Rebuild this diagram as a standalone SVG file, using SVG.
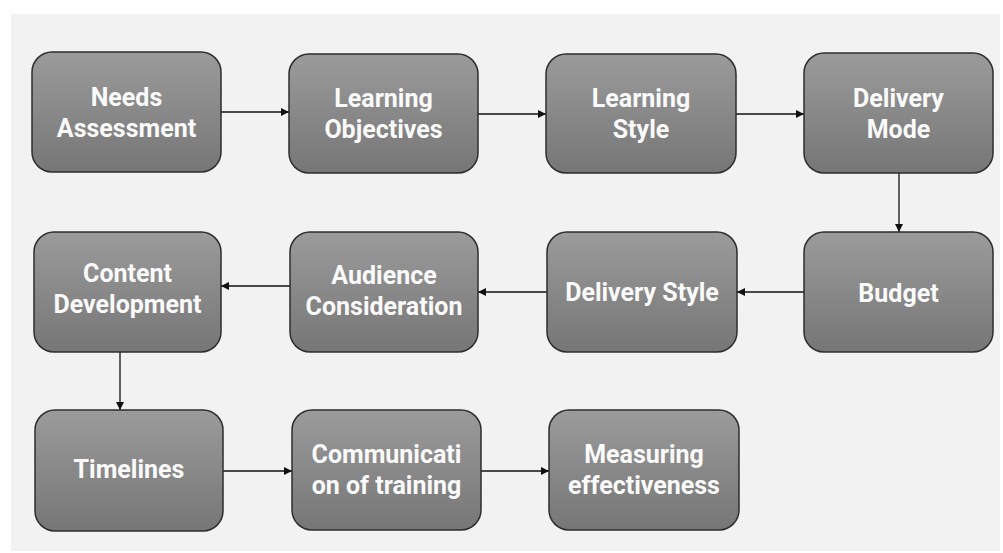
<svg xmlns="http://www.w3.org/2000/svg" width="1003" height="553" viewBox="0 0 1003 553">
<defs>
<linearGradient id="g" x1="0" y1="0" x2="0" y2="1">
<stop offset="0" stop-color="#9b9b9b"/>
<stop offset="1" stop-color="#767676"/>
</linearGradient>
<marker id="ah" viewBox="0 0 10 10" refX="10" refY="5" markerWidth="8" markerHeight="8" markerUnits="userSpaceOnUse" orient="auto">
<path d="M0,0 L10,5 L0,10 z" fill="#111"/>
</marker>
</defs>
<style>
.box{fill:url(#g);stroke:#2e2e2e;stroke-width:1.5}
.t{font-family:Roboto,"Liberation Sans",sans-serif;font-weight:bold;font-size:25px;fill:#fafafa;text-anchor:middle}
.c{stroke:#111;stroke-width:1.3;fill:none;marker-end:url(#ah)}
</style>
<rect width="1003" height="553" fill="#ffffff"/>
<rect x="11" y="14" width="989" height="537" fill="#f2f2f2"/>
<g id="connectors">
<line class="c" x1="221" y1="112" x2="289" y2="112"/>
<line class="c" x1="478" y1="114" x2="546" y2="114"/>
<line class="c" x1="736" y1="114" x2="804" y2="114"/>
<line class="c" x1="899" y1="173" x2="899" y2="232"/>
<line class="c" x1="804" y1="292" x2="737" y2="292"/>
<line class="c" x1="547" y1="292" x2="478" y2="292"/>
<line class="c" x1="290" y1="286" x2="221" y2="286"/>
<line class="c" x1="120" y1="352" x2="120" y2="410"/>
<line class="c" x1="223" y1="471" x2="292" y2="471"/>
<line class="c" x1="481" y1="471" x2="549" y2="471"/>
</g>
<g id="n1"><rect class="box" x="32" y="52" width="189" height="120" rx="20"/><text class="t" x="126.5" y="106">Needs</text><text class="t" x="126.5" y="137">Assessment</text></g>
<g id="n2"><rect class="box" x="289" y="54" width="189" height="119" rx="20"/><text class="t" x="383.5" y="107">Learning</text><text class="t" x="383.5" y="138">Objectives</text></g>
<g id="n3"><rect class="box" x="546" y="54" width="190" height="119" rx="20"/><text class="t" x="641" y="107">Learning</text><text class="t" x="641" y="138">Style</text></g>
<g id="n4"><rect class="box" x="804" y="53" width="189" height="120" rx="20"/><text class="t" x="898.5" y="107">Delivery</text><text class="t" x="898.5" y="138">Mode</text></g>
<g id="n5"><rect class="box" x="804" y="232" width="189" height="120" rx="20"/><text class="t" x="898.5" y="302">Budget</text></g>
<g id="n6"><rect class="box" x="547" y="232" width="190" height="120" rx="20"/><text class="t" x="642" y="301">Delivery Style</text></g>
<g id="n7"><rect class="box" x="290" y="232" width="188" height="120" rx="20"/><text class="t" x="384" y="284">Audience</text><text class="t" x="384" y="315">Consideration</text></g>
<g id="n8"><rect class="box" x="34" y="232" width="187" height="120" rx="20"/><text class="t" x="127.5" y="282">Content</text><text class="t" x="127.5" y="313">Development</text></g>
<g id="n9"><rect class="box" x="35" y="410" width="188" height="121" rx="20"/><text class="t" x="129" y="478">Timelines</text></g>
<g id="n10"><rect class="box" x="292" y="410" width="189" height="120" rx="20"/><text class="t" x="386.5" y="463">Communicati</text><text class="t" x="386.5" y="494">on of training</text></g>
<g id="n11"><rect class="box" x="549" y="410" width="190" height="120" rx="20"/><text class="t" x="644" y="463">Measuring</text><text class="t" x="644" y="494">effectiveness</text></g>
</svg>
